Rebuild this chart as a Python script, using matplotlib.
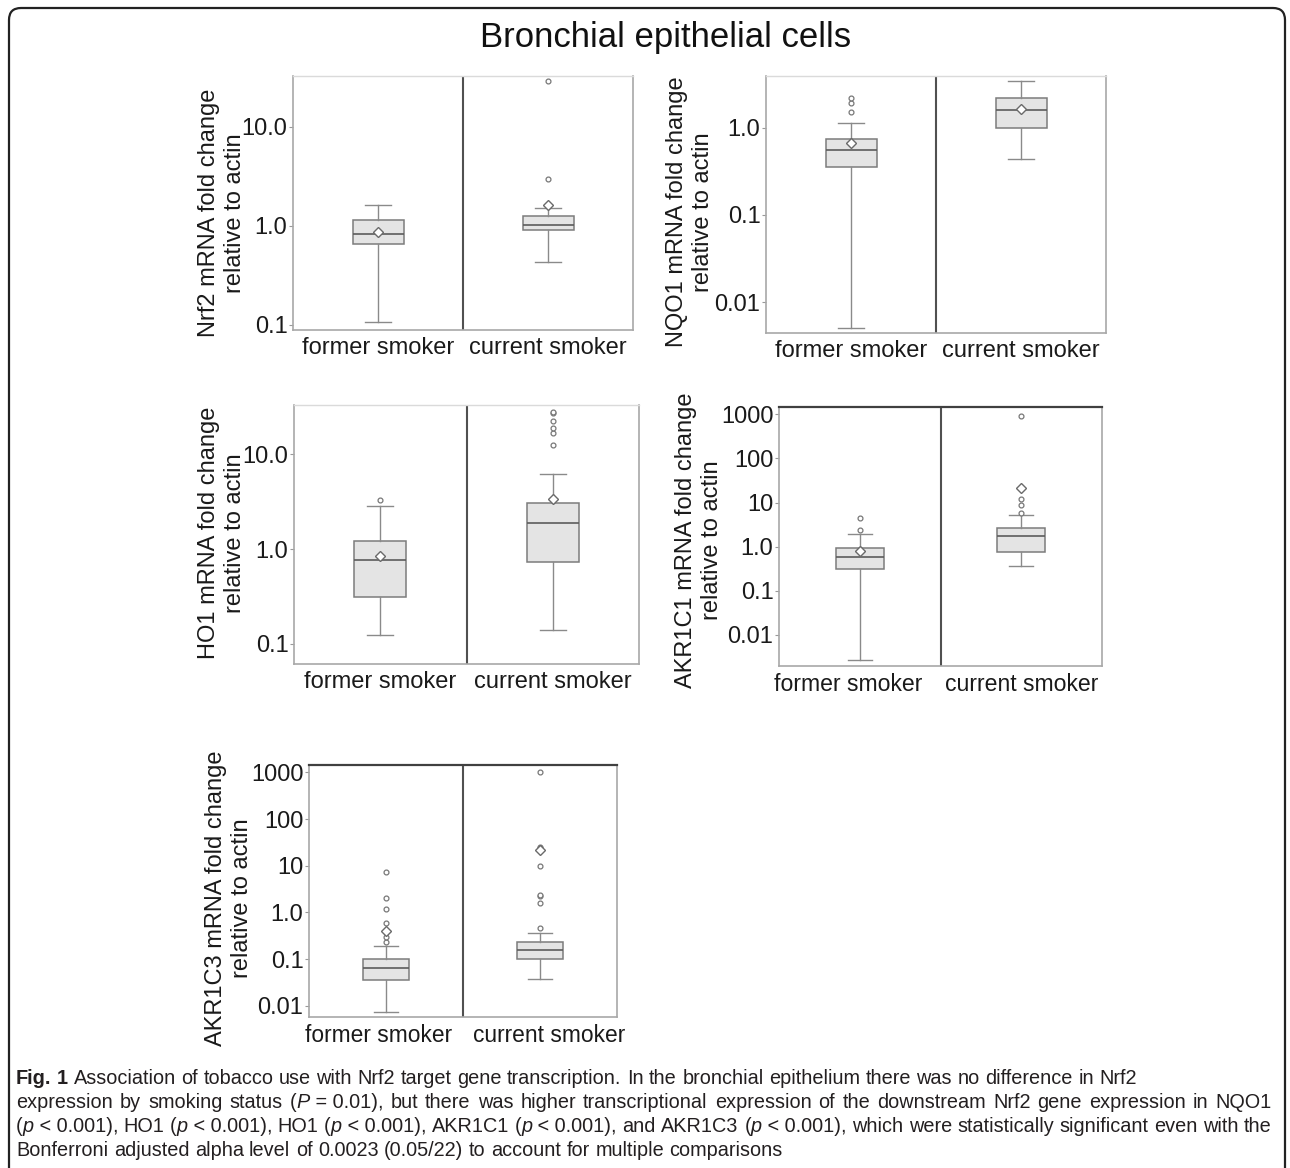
import matplotlib
matplotlib.use("Agg")
import matplotlib.pyplot as plt
from matplotlib.patches import FancyBboxPatch

plt.rcParams['font.family'] = ['Liberation Sans', 'DejaVu Sans']

groups = ["former smoker", "current smoker"]

# Nrf2
nrf2_med = [0.82, 1.02]
nrf2_q1 = [0.65, 0.90]
nrf2_q3 = [1.14, 1.25]
nrf2_lo = [0.106, 0.43]
nrf2_hi = [1.62, 1.50]
nrf2_mean = [0.87, 1.64]
nrf2_fliers = [[], [2.96, 29.0]]

# NQO1
nqo1_med = [0.556, 1.60]
nqo1_q1 = [0.357, 1.0]
nqo1_q3 = [0.74, 2.17]
nqo1_lo = [0.00512, 0.434]
nqo1_hi = [1.12, 3.43]
nqo1_mean = [0.66, 1.62]
nqo1_fliers = [[1.52, 1.90, 2.17], []]

# HO1
ho1_med = [0.765, 1.90]
ho1_q1 = [0.308, 0.728]
ho1_q3 = [1.22, 3.07]
ho1_lo = [0.124, 0.138]
ho1_hi = [2.83, 6.17]
ho1_mean = [0.85, 3.38]
ho1_fliers = [[3.28], [12.6, 17.0, 18.9, 22.8, 27.7, 28.4]]

# AKR1C1
akr1c1_med = [0.575, 1.75]
akr1c1_q1 = [0.312, 0.76]
akr1c1_q3 = [0.95, 2.65]
akr1c1_lo = [0.00265, 0.36]
akr1c1_hi = [1.91, 5.2]
akr1c1_mean = [0.80, 21.1]
akr1c1_fliers = [[2.36, 4.4], [5.8, 8.7, 12.2, 933]]

# AKR1C3
akr1c3_med = [0.064, 0.158]
akr1c3_q1 = [0.0367, 0.10]
akr1c3_q3 = [0.1035, 0.234]
akr1c3_lo = [0.0076, 0.0379]
akr1c3_hi = [0.196, 0.373]
akr1c3_mean = [0.40, 21.3]
akr1c3_fliers = [[0.228, 0.30, 0.61, 1.19, 2.02, 7.3],
                 [0.46, 1.61, 2.2, 2.31, 10.1, 23.8, 25.4, 1010]]

ticks_a = [0.1, 1, 10]
ticklabels_a = ["0.1", "1.0", "10.0"]
ticks_b = [0.01, 0.1, 1]
ticklabels_b = ["0.01", "0.1", "1.0"]
ticks_c = [0.01, 0.1, 1, 10, 100, 1000]
ticklabels_c = ["0.01", "0.1", "1.0", "10", "100", "1000"]

W, H = 1290, 1168
fig = plt.figure(figsize=(W / 100, H / 100), dpi=100)


def px_rect(x0, y0, x1, y1):
    return [x0 / W, 1 - y1 / H, (x1 - x0) / W, (y1 - y0) / H]


def make_stats(med, q1, q3, lo, hi, mean, fliers):
    out = []
    for i in range(2):
        out.append(dict(med=med[i], q1=q1[i], q3=q3[i], whislo=lo[i],
                        whishi=hi[i], mean=mean[i], fliers=fliers[i]))
    return out


def panel(rect, stats, ylim, ticks, labels, ylabel, lab_xy, top_dark=False,
          label_pos=(0, 1), xsize=17):
    ax = fig.add_axes(px_rect(*rect))
    ax.bxp(stats, positions=[0, 1], widths=0.3, capwidths=0.15,
           showmeans=True, patch_artist=True,
           boxprops=dict(facecolor='#e4e4e4', edgecolor='#7c7c7c', linewidth=1.1),
           medianprops=dict(color='#5c5c5c', linewidth=1.2),
           whiskerprops=dict(color='#8a8a8a', linewidth=1.0),
           capprops=dict(color='#8a8a8a', linewidth=1.0),
           meanprops=dict(marker='D', markerfacecolor='white',
                          markeredgecolor='#6a6a6a', markersize=5.5,
                          markeredgewidth=1.0),
           flierprops=dict(marker='o', markerfacecolor='white',
                           markeredgecolor='#777777', markersize=3.5,
                           markeredgewidth=0.9))
    ax.set_yscale('log')
    ax.set_ylim(*ylim)
    ax.set_xlim(-0.5, 1.5)
    ax.axvline(0.5, color='#505050', lw=1.5)
    ax.set_yticks(ticks, labels)
    ax.minorticks_off()
    ax.set_xticks(label_pos, groups)
    ax.tick_params(axis='x', length=0, pad=5, labelsize=xsize, labelcolor='#1a1a1a')
    ax.tick_params(axis='y', length=3, width=0.8, color='#999999', pad=1,
                   labelsize=17, labelcolor='#1a1a1a')
    for s in ['left', 'bottom', 'right']:
        ax.spines[s].set_color('#a8a8a8')
        ax.spines[s].set_linewidth(1.2)
    if top_dark:
        ax.spines['top'].set_color('#404040')
        ax.spines['top'].set_linewidth(1.6)
    else:
        ax.spines['top'].set_color('#dadada')
        ax.spines['top'].set_linewidth(1.0)
    fig.text(lab_xy[0] / W, 1 - lab_xy[1] / H, ylabel, rotation=90,
             ha='center', va='center', multialignment='center',
             fontsize=17, linespacing=1.22, color='#1a1a1a')
    return ax


panel((293, 76, 633, 330),
      make_stats(nrf2_med, nrf2_q1, nrf2_q3, nrf2_lo, nrf2_hi, nrf2_mean, nrf2_fliers),
      (0.089, 32.5), ticks_a, ticklabels_a,
      "Nrf2 mRNA fold change\nrelative to actin", (222, 213))
panel((766, 76, 1106, 333),
      make_stats(nqo1_med, nqo1_q1, nqo1_q3, nqo1_lo, nqo1_hi, nqo1_mean, nqo1_fliers),
      (0.00445, 3.91), ticks_b, ticklabels_b,
      "NQO1 mRNA fold change\nrelative to actin", (690, 212))
panel((294, 405, 639, 664),
      make_stats(ho1_med, ho1_q1, ho1_q3, ho1_lo, ho1_hi, ho1_mean, ho1_fliers),
      (0.0607, 33.4), ticks_a, ticklabels_a,
      "HO1 mRNA fold change\nrelative to actin", (222, 533))
panel((779, 407, 1102, 666),
      make_stats(akr1c1_med, akr1c1_q1, akr1c1_q3, akr1c1_lo, akr1c1_hi, akr1c1_mean, akr1c1_fliers),
      (0.00198, 1465), ticks_c, ticklabels_c,
      "AKR1C1 mRNA fold change\nrelative to actin", (699, 540), top_dark=True,
      label_pos=(-0.07, 1.0), xsize=16.6)
panel((309, 765, 617, 1017),
      make_stats(akr1c3_med, akr1c3_q1, akr1c3_q3, akr1c3_lo, akr1c3_hi, akr1c3_mean, akr1c3_fliers),
      (0.0058, 1433), ticks_c, ticklabels_c,
      "AKR1C3 mRNA fold change\nrelative to actin", (229, 898), top_dark=True,
      label_pos=(-0.05, 1.06), xsize=16.4)

fig.text(666 / W, 1 - 38 / H, "Bronchial epithelial cells", ha='center',
         va='center', fontsize=25, color='#111111')

# rounded frame; its bottom runs off the canvas like in the cropped figure
frame = FancyBboxPatch((0.09, -0.3), 12.76, 11.9,
                       boxstyle="round,pad=0,rounding_size=0.12",
                       transform=fig.dpi_scale_trans, fill=False,
                       edgecolor='#222222', linewidth=1.6, clip_on=False)
fig.add_artist(frame)

# caption, laid out word by word so lines 2-3 can be justified
cap_font = ['DejaVu Sans Condensed', 'Liberation Sans Narrow', 'Liberation Sans', 'DejaVu Sans']
NB = '\u00a0'
caption = [
    ([("Fig. 1", 'bold', 'normal'),
      (" Association of tobacco use with Nrf2 target gene transcription. In the bronchial "
       "epithelium there was no difference in Nrf2", 'normal', 'normal')], False),
    ([("expression by smoking status (", 'normal', 'normal'), ("P", 'normal', 'italic'),
      (NB + "=" + NB + "0.01), but there was higher transcriptional expression of the "
       "downstream Nrf2 gene expression in NQO1", 'normal', 'normal')], True),
    ([("(", 'normal', 'normal'), ("p", 'normal', 'italic'),
      (NB + "<" + NB + "0.001), HO1 (", 'normal', 'normal'), ("p", 'normal', 'italic'),
      (NB + "<" + NB + "0.001), HO1 (", 'normal', 'normal'), ("p", 'normal', 'italic'),
      (NB + "<" + NB + "0.001), AKR1C1 (", 'normal', 'normal'), ("p", 'normal', 'italic'),
      (NB + "<" + NB + "0.001), and AKR1C3 (", 'normal', 'normal'), ("p", 'normal', 'italic'),
      (NB + "<" + NB + "0.001), which were statistically significant even with the",
       'normal', 'normal')], True),
    ([("Bonferroni adjusted alpha level of 0.0023 (0.05/22) to account for multiple "
       "comparisons", 'normal', 'normal')], False),
]
cap_y = [1077, 1101, 1125, 1149]
x_left, x_right = 16, 1272
last_line_end = 785

renderer = fig.canvas.get_renderer()


def text_w(s, weight, style, size):
    t = fig.text(0, 0, s, fontsize=size, family=cap_font,
                 fontweight=weight, fontstyle=style)
    w = t.get_window_extent(renderer).width
    t.remove()
    return w


# size the caption font so the last line ends where it does in the figure
w10 = text_w(caption[3][0][0][0], 'normal', 'normal', 10)
cap_size = 10 * (last_line_end - x_left) / w10

space_w = (text_w("a a", 'normal', 'normal', cap_size)
           - text_w("aa", 'normal', 'normal', cap_size))

for (pieces, justify), y in zip(caption, cap_y):
    words = [[]]
    for txt, wt, st in pieces:
        parts = txt.split(' ')
        for j, p in enumerate(parts):
            if j > 0:
                words.append([])
            if p:
                words[-1].append((p, wt, st))
    words = [w for w in words if w]
    widths = [sum(text_w(p, wt, st, cap_size) for p, wt, st in w) for w in words]
    if justify and len(words) > 1:
        gap = (x_right - x_left - sum(widths)) / (len(words) - 1)
    else:
        gap = space_w
    x = x_left
    for w, ww in zip(words, widths):
        xx = x
        for p, wt, st in w:
            fig.text(xx / W, 1 - y / H, p, fontsize=cap_size, family=cap_font,
                     fontweight=wt, fontstyle=st, va='center_baseline',
                     ha='left', color='#231f20')
            xx += text_w(p, wt, st, cap_size)
        x += ww + gap

fig.savefig("out.png", dpi=100)
